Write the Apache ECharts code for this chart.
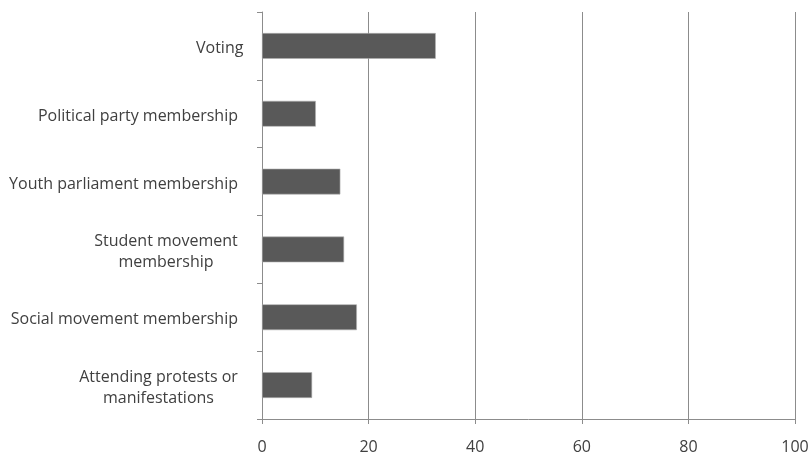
<!DOCTYPE html>
<html><head><meta charset="utf-8">
<script src="https://cdn.jsdelivr.net/npm/echarts@6/dist/echarts.min.js"></script>
<style>html,body{margin:0;padding:0;background:#fff}#c{width:811px;height:454px}</style>
</head><body><div id="c"></div>
<script>
const categories = ["Voting", "Political party membership", "Youth parliament membership", "Student movement\nmembership", "Social movement membership", "Attending protests or\nmanifestations"];
const values = [32.6, 10.1, 14.7, 15.4, 17.8, 9.4];
const xTicks = [0, 20, 40, 60, 80, 100];

const FONT = 'Open Sans';
const FS = 16;
const ctx = document.createElement('canvas').getContext('2d');
ctx.font = FS + 'px "' + FONT + '"';

const chart = echarts.init(document.getElementById('c'), null, {renderer: 'canvas'});
chart.setOption({
  animation: false,
  grid: {left: 262, right: 16, top: 12, bottom: 35, containLabel: false, outerBoundsMode: 'none'},
  xAxis: {
    type: 'value', min: xTicks[0], max: xTicks[xTicks.length - 1], interval: 20,
    axisLine: {show: true, lineStyle: {color: '#8c8c8c', width: 1}},
    axisTick: {show: true, length: 5, lineStyle: {color: '#8c8c8c'}},
    splitLine: {show: true, lineStyle: {color: '#8c8c8c', width: 1}},
    axisLabel: {color: '#404040', fontSize: FS, fontFamily: FONT, margin: 20}
  },
  yAxis: {
    type: 'category', data: categories, inverse: true,
    axisLine: {show: true, lineStyle: {color: '#8c8c8c', width: 1}},
    axisTick: {show: true, length: 5, alignWithLabel: false, lineStyle: {color: '#8c8c8c'}},
    axisLabel: {
      color: '#404040', fontSize: FS, fontFamily: FONT, margin: 24, lineHeight: 21, align: 'right',
      padding: [5, 0, 0, 0],
      formatter: function (v) {
        const lines = v.split('\n');
        if (lines.length === 1) {
          if (v === 'Voting') {
            const w = Math.ceil(ctx.measureText(v).width);
            return '{s' + (w - 6) + '|' + v + '}';
          }
          return v;
        }
        const w = Math.ceil(Math.max.apply(null, lines.map(l => ctx.measureText(l).width)));
        return lines.map(l => '{c' + w + '|' + l + '}').join('\n');
      },
      rich: (function () {
        const r = {};
        for (let w = 20; w < 260; w++) {
          r['c' + w] = {width: w, align: 'center', fontSize: FS, fontFamily: FONT, color: '#404040', lineHeight: 21};
          r['s' + w] = {width: w, align: 'left', fontSize: FS, fontFamily: FONT, color: '#404040', lineHeight: 21};
        }
        return r;
      })()
    }
  },
  series: [{
    type: 'bar', data: values, barWidth: '38%',
    itemStyle: {color: '#595959', borderColor: '#b0b0b0', borderWidth: 0.6}
  }]
});
</script></body></html>
